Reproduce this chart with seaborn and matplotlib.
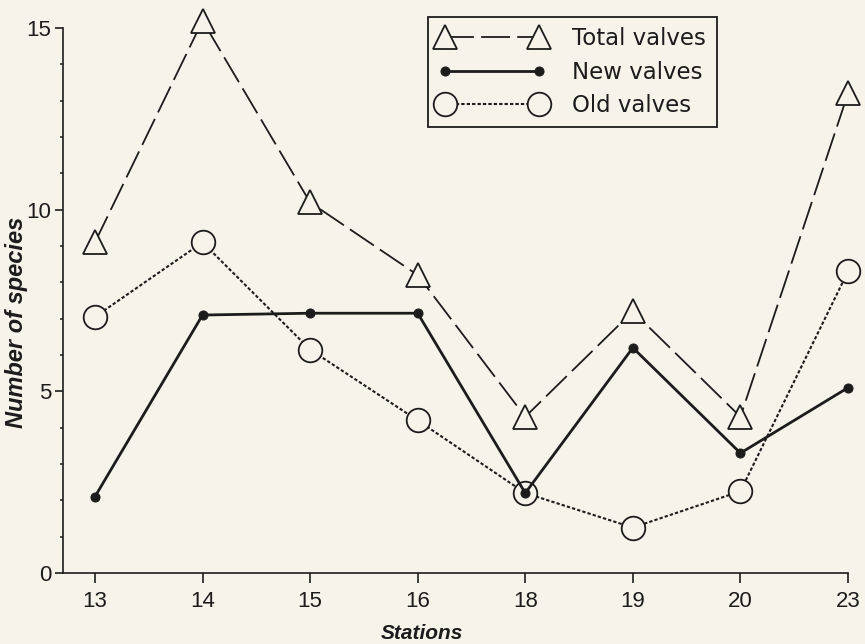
import matplotlib
matplotlib.use("Agg")
import matplotlib.pyplot as plt
from matplotlib.ticker import MultipleLocator
import pandas as pd
import seaborn as sns

# Species counts per sampling station
stations = ["13", "14", "15", "16", "18", "19", "20", "23"]
total_valves = [9.1, 15.2, 10.2, 8.2, 4.3, 7.2, 4.3, 13.2]
new_valves = [2.1, 7.1, 7.15, 7.15, 2.2, 6.2, 3.3, 5.1]
old_valves = [7.05, 9.1, 6.15, 4.2, 2.2, 1.25, 2.25, 8.3]
y_ticks = [0, 5, 10, 15]

df = pd.DataFrame({
    "Stations": stations,
    "Total valves": total_valves,
    "New valves": new_valves,
    "Old valves": old_valves,
})

BG = "#f6f4ea"
INK = "#1c1c1c"

sns.set_theme(style="ticks")
plt.rcParams["font.family"] = ["Liberation Sans", "DejaVu Sans"]

fig = plt.figure(figsize=(8.65, 6.44), dpi=100, facecolor=BG)
ax = fig.add_axes([63 / 865, 1 - 573 / 644, (848 - 63) / 865, (573 - 28) / 644])
ax.set_facecolor(BG)

common = dict(sort=False, clip_on=False, color=INK, ax=ax)

sns.lineplot(data=df, x="Stations", y="Total valves", label="Total valves",
             linewidth=1.3, linestyle=(0, (16, 4)), marker="^", markersize=17,
             markerfacecolor=BG, markeredgecolor=INK, markeredgewidth=1.3,
             zorder=3, **common)
sns.lineplot(data=df, x="Stations", y="New valves", label="New valves",
             linewidth=2.0, marker="o", markersize=6.5,
             markerfacecolor=INK, markeredgecolor=INK,
             zorder=5, **common)
sns.lineplot(data=df, x="Stations", y="Old valves", label="Old valves",
             linewidth=1.5, linestyle=(0, (1.6, 1.0)), marker="o", markersize=17,
             markerfacecolor=BG, markeredgecolor=INK, markeredgewidth=1.3,
             zorder=4, **common)

ax.set_xlim(-0.297, len(stations) - 1)
ax.set_ylim(0, 15)
ax.set_yticks(y_ticks)
ax.yaxis.set_minor_locator(MultipleLocator(1))

for side in ("top", "right"):
    ax.spines[side].set_visible(False)
for side in ("left", "bottom"):
    ax.spines[side].set_linewidth(1.2)
    ax.spines[side].set_color(INK)

ax.tick_params(axis="both", which="major", direction="out", width=1.2,
               color=INK, labelcolor=INK, labelsize=16)
ax.tick_params(axis="y", which="major", length=6, pad=2.5)
ax.tick_params(axis="x", which="major", length=7, pad=6)
ax.tick_params(axis="y", which="minor", direction="out", length=2.5, width=1.1, color=INK)
ax.tick_params(axis="x", which="minor", length=0)

ax.set_xlabel("Stations", fontsize=15, fontweight="bold", fontstyle="italic", color=INK)
ax.set_ylabel("Number of species", fontsize=17, fontweight="bold", fontstyle="italic",
              color=INK)
ax.xaxis.set_label_coords(0.457, -0.093)
ax.yaxis.set_label_coords(-0.045, 0.46)

leg = ax.legend(loc="upper left", bbox_to_anchor=(0.465, 1.02), borderaxespad=0,
                numpoints=2, handlelength=4.7, handletextpad=1.15, borderpad=0.45,
                labelspacing=0.45, fancybox=False, frameon=True,
                prop={"family": "DejaVu Sans", "size": 16.5})
frame = leg.get_frame()
frame.set_edgecolor(INK)
frame.set_linewidth(1.3)
frame.set_facecolor(BG)
frame.set_alpha(1)
for t in leg.get_texts():
    t.set_color(INK)

fig.savefig("out.png", dpi=100, facecolor=BG)
